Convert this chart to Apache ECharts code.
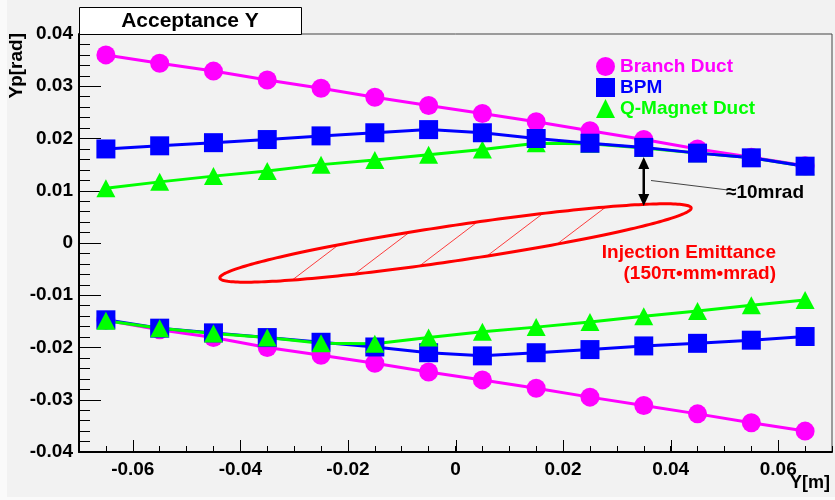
<!DOCTYPE html>
<html>
<head>
<meta charset="utf-8">
<script src="https://cdn.jsdelivr.net/npm/echarts@6/dist/echarts.min.js"></script>
<style>
  html, body { margin: 0; padding: 0; background: #f2f2f2; }
  #chart { width: 835px; height: 500px; }
</style>
</head>
<body>
<div id="chart"></div>
<script>
// Beam position Y [m] at which each aperture limit was evaluated
const positions = [-0.065, -0.055, -0.045, -0.035, -0.025, -0.015, -0.005,
                    0.005,  0.015,  0.025,  0.035,  0.045,  0.055,  0.065];

// Upper / lower angular acceptance Yp [rad] for each aperture
const branchUpper = [0.0360, 0.0344, 0.0329, 0.0312, 0.0296, 0.0279, 0.0263,
                     0.0248, 0.0232, 0.0215, 0.0198, 0.0180, 0.0164, 0.0148];
const branchLower = [-0.0148, -0.0166, -0.0181, -0.0200, -0.0215, -0.0230, -0.0247,
                     -0.0262, -0.0278, -0.0295, -0.0311, -0.0327, -0.0344, -0.0360];
const bpmUpper    = [0.0180, 0.0186, 0.0192, 0.0198, 0.0205, 0.0211, 0.0217,
                     0.0211, 0.0200, 0.0191, 0.0183, 0.0172, 0.0163, 0.0147];
const bpmLower    = [-0.0147, -0.0163, -0.0172, -0.0181, -0.0190, -0.0199, -0.0210,
                     -0.0216, -0.0210, -0.0204, -0.0197, -0.0192, -0.0186, -0.0179];
const qUpper      = [0.0105, 0.0117, 0.0128, 0.0138, 0.0150, 0.0159, 0.0169,
                     0.0179, 0.0191, 0.0190, 0.0182, 0.0172, 0.0163, 0.0147];
const qLower      = [-0.0149, -0.0163, -0.0173, -0.0181, -0.0192, -0.0193, -0.0181,
                     -0.0170, -0.0161, -0.0151, -0.0140, -0.0130, -0.0119, -0.0109];

// Labelled ticks on the Y[m] axis
const xMajorTicks = [-0.06, -0.04, -0.02, 0, 0.02, 0.04, 0.06];

// Injection beam: emittance 150 pi mm mrad and Twiss parameters at the septum
const emittance = 150e-6;      // m rad (area / pi)
const twissAlpha = -1.95;
const twissBeta = 12.8;        // m
const twissGamma = (1 + twissAlpha * twissAlpha) / twissBeta;
const arrowIndex = 10;         // clearance arrow drawn at Y = 0.035 m

const MAGENTA = '#ff00ff', BLUE = '#0000ff', GREEN = '#00ff00', RED = '#ff0000';
const FONT = 'Liberation Sans, Arial, sans-serif';
const PAD_MARGIN = '#fafafa';

function fmt(v) {
  const r = Math.round(v * 1000) / 1000;
  return r === 0 ? '0' : String(r);
}
function isMajorX(v) {
  return xMajorTicks.some(t => Math.abs(t - v) < 1e-9);
}
function pairs(values) {
  return positions.map((x, i) => [x, values[i]]);
}
function aperture(name, values, color, symbol, size) {
  return {
    type: 'line', name, data: pairs(values),
    symbol, symbolSize: size, showSymbol: true,
    itemStyle: { color, borderWidth: 0 },
    lineStyle: { color, width: 3 },
    emphasis: { disabled: true },
    animation: false, clip: false
  };
}
// upper edge of the phase-space ellipse at position x
function ellipseUpper(x) {
  const b = twissAlpha * x;
  const disc = b * b - twissBeta * (twissGamma * x * x - emittance);
  return (-b + Math.sqrt(Math.max(disc, 0))) / twissBeta;
}

const chart = echarts.init(document.getElementById('chart'), null, { renderer: 'canvas' });

const ellipseSeries = {
  type: 'custom', name: 'emittance', coordinateSystem: 'cartesian2d',
  data: [[0, 0]], silent: true, animation: false, z: 1,
  renderItem(params, api) {
    const xMax = Math.sqrt(emittance * twissBeta);
    const pRoot = Math.sqrt(emittance / twissBeta);
    const pts = [];
    for (let k = 0; k < 240; k++) {
      const ph = 2 * Math.PI * k / 240;
      pts.push(api.coord([xMax * Math.cos(ph), -pRoot * (twissAlpha * Math.cos(ph) + Math.sin(ph))]));
    }
    // sparse diagonal hatching clipped to the ellipse
    const nx = 0.605, ny = 0.796, spacing = 32.9, c0 = 399.7;
    const children = [];
    for (let k = 0; k < 5; k++) {
      const c = c0 + k * spacing;
      const hits = [];
      for (let i = 0; i < pts.length; i++) {
        const a = pts[i], b = pts[(i + 1) % pts.length];
        const da = a[0] * nx + a[1] * ny - c, db = b[0] * nx + b[1] * ny - c;
        if (da * db < 0) {
          const t = da / (da - db);
          hits.push([a[0] + t * (b[0] - a[0]), a[1] + t * (b[1] - a[1])]);
        }
      }
      if (hits.length >= 2) {
        children.push({ type: 'line', shape: { x1: hits[0][0], y1: hits[0][1], x2: hits[1][0], y2: hits[1][1] },
          style: { stroke: RED, lineWidth: 1, opacity: 0.75 } });
      }
    }
    children.push({ type: 'polygon', shape: { points: pts }, style: { fill: 'none', stroke: RED, lineWidth: 3 } });
    return { type: 'group', children };
  }
};

const arrowSeries = {
  type: 'custom', name: 'clearance', coordinateSystem: 'cartesian2d',
  data: [[positions[arrowIndex], bpmUpper[arrowIndex]]], silent: true, animation: false, z: 4,
  renderItem(params, api) {
    const xv = api.value(0), yv = api.value(1);
    const top = api.coord([xv, yv]); top[1] += 9.5;
    const bot = api.coord([xv, ellipseUpper(xv)]); bot[1] += 1.5;
    const L = 12, W = 5.5;
    return { type: 'group', children: [
      { type: 'line', shape: { x1: top[0], y1: top[1] + L - 1, x2: bot[0], y2: bot[1] - L + 1 }, style: { stroke: '#000', lineWidth: 2.5 } },
      { type: 'polygon', shape: { points: [[top[0], top[1]], [top[0] - W, top[1] + L], [top[0] + W, top[1] + L]] }, style: { fill: '#000' } },
      { type: 'polygon', shape: { points: [[bot[0], bot[1]], [bot[0] - W, bot[1] - L], [bot[0] + W, bot[1] - L]] }, style: { fill: '#000' } }
    ] };
  }
};

// long (labelled) ticks on the bottom axis, pointing into the frame
const majorTickSeries = {
  type: 'custom', name: 'majorTicks', coordinateSystem: 'cartesian2d',
  data: xMajorTicks.map(v => [v, -0.04]), silent: true, animation: false, z: 3,
  renderItem(params, api) {
    const p = api.coord([api.value(0), api.value(1)]);
    const x = Math.round(p[0]) + 0.5;
    return { type: 'line', shape: { x1: x, y1: p[1], x2: x, y2: p[1] - 12 }, style: { stroke: '#000', lineWidth: 1 } };
  }
};

const option = {
  backgroundColor: '#f2f2f2',
  animation: false,
  grid: { left: 79, right: 2, top: 34, bottom: 48, show: true, borderColor: '#444', borderWidth: 1, containLabel: false },
  legend: {
    orient: 'vertical', left: 596, top: 57, padding: 0,
    itemWidth: 19, itemHeight: 19, itemGap: 2, selectedMode: false,
    textStyle: { fontSize: 19, fontWeight: 'bold', fontFamily: FONT },
    data: [
      { name: 'Branch Duct', icon: 'circle', textStyle: { color: MAGENTA } },
      { name: 'BPM', icon: 'rect', textStyle: { color: BLUE } },
      { name: 'Q-Magnet Duct', icon: 'triangle', textStyle: { color: GREEN } }
    ]
  },
  xAxis: {
    type: 'value', min: -0.07, max: 0.07, interval: 0.005,
    axisLine: { show: true, onZero: false, lineStyle: { color: '#000', width: 2 } },
    axisTick: { show: true, inside: true, length: 6, lineStyle: { color: '#000' } },
    splitLine: { show: false },
    axisLabel: {
      formatter: v => (isMajorX(v) ? fmt(v) : ''),
      fontSize: 19, fontWeight: 'bold', color: '#000', fontFamily: FONT, margin: 8
    }
  },
  yAxis: {
    type: 'value', min: -0.04, max: 0.04, interval: 0.01,
    axisLine: { show: true, onZero: false, lineStyle: { color: '#000', width: 2 } },
    axisTick: { show: true, inside: true, length: 22, lineStyle: { color: '#000' } },
    minorTick: { show: true, splitNumber: 5, length: 11, lineStyle: { color: '#000' } },
    splitLine: { show: false },
    axisLabel: { formatter: fmt, fontSize: 19, fontWeight: 'bold', color: '#000', fontFamily: FONT, margin: 6 }
  },
  series: [
    ellipseSeries,
    majorTickSeries,
    aperture('Branch Duct', branchUpper, MAGENTA, 'circle', 19),
    aperture('Q-Magnet Duct', qUpper, GREEN, 'triangle', [19, 18]),
    aperture('BPM', bpmUpper, BLUE, 'rect', 19),
    aperture('Branch Duct', branchLower, MAGENTA, 'circle', 19),
    aperture('BPM', bpmLower, BLUE, 'rect', 19),
    aperture('Q-Magnet Duct', qLower, GREEN, 'triangle', [19, 18]),
    arrowSeries
  ],
  graphic: [
    { type: 'rect', shape: { x: 0, y: 0, width: 7, height: 500 }, style: { fill: PAD_MARGIN }, z: -1, silent: true },
    { type: 'rect', shape: { x: 0, y: 497, width: 835, height: 3 }, style: { fill: PAD_MARGIN }, z: -1, silent: true },
    { type: 'rect', shape: { x: 79.5, y: 7.5, width: 222, height: 27 }, style: { fill: '#ffffff', stroke: '#000', lineWidth: 1 }, z: 10 },
    { type: 'text', x: 190, y: 21, z: 11, style: { text: 'Acceptance Y', fontSize: 21, fontWeight: 'bold', fontFamily: FONT, fill: '#000', align: 'center', verticalAlign: 'middle' } },
    { type: 'text', x: 17, y: 33, rotation: Math.PI / 2, z: 11, style: { text: 'Yp[rad]', fontSize: 19, fontWeight: 'bold', fontFamily: FONT, fill: '#000', align: 'right', verticalAlign: 'middle' } },
    { type: 'text', x: 830, y: 483, z: 11, style: { text: 'Y[m]', fontSize: 18, fontWeight: 'bold', fontFamily: FONT, fill: '#000', align: 'right', verticalAlign: 'middle' } },
    { type: 'line', shape: { x1: 651, y1: 180.5, x2: 728, y2: 190 }, style: { stroke: '#444', lineWidth: 1 }, z: 11 },
    { type: 'text', x: 726, y: 193, z: 11, style: { text: '≈10mrad', fontSize: 19, fontWeight: 'bold', fontFamily: FONT, fill: '#000', align: 'left', verticalAlign: 'middle' } },
    { type: 'text', x: 776, y: 253, z: 11, style: { text: 'Injection Emittance', fontSize: 19, fontWeight: 'bold', fontFamily: FONT, fill: RED, align: 'right', verticalAlign: 'middle' } },
    { type: 'text', x: 776, y: 274, z: 11, style: { text: '(150π•mm•mrad)', fontSize: 19, fontWeight: 'bold', fontFamily: FONT, fill: RED, align: 'right', verticalAlign: 'middle' } }
  ]
};

chart.setOption(option);
</script>
</body>
</html>
